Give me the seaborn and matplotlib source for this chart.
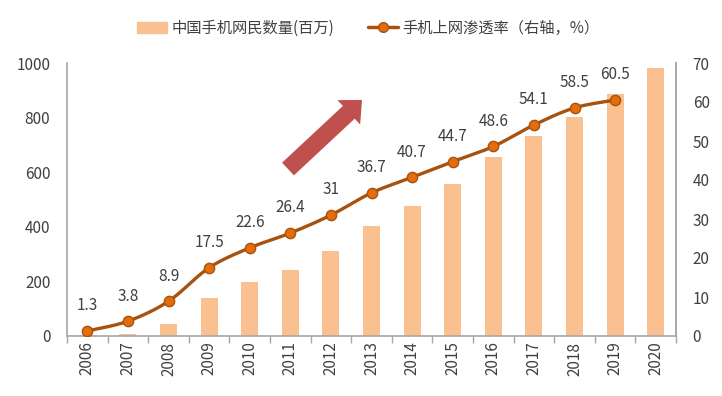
import numpy as np
import pandas as pd
import matplotlib
matplotlib.use("Agg")
import matplotlib.pyplot as plt
from matplotlib.patches import Patch
from matplotlib.lines import Line2D
import seaborn as sns

years = [str(y) for y in range(2006, 2021)]
users = [5, 9, 45, 138, 198, 242, 311, 403, 476, 555, 657, 731, 802, 887, 982]
rate_years = [str(y) for y in range(2006, 2020)]
rate = [1.3, 3.8, 8.9, 17.5, 22.6, 26.4, 31, 36.7, 40.7, 44.7, 48.6, 54.1, 58.5, 60.5]
rate_labels = ["1.3", "3.8", "8.9", "17.5", "22.6", "26.4", "31", "36.7", "40.7",
               "44.7", "48.6", "54.1", "58.5", "60.5"]
bar_name = "中国手机网民数量(百万)"
line_name = "手机上网渗透率（右轴，%）"

sns.set_theme(style="white")
plt.rcParams['font.family'] = ['Noto Sans CJK SC', 'DejaVu Sans']

BAR_C = "#FAC090"
LINE_C = "#A8520F"
MARK_C = "#E46C0A"
TXT_C = "#404040"
AX_C = "#A6A6A6"

fig = plt.figure(figsize=(7.22, 3.96), dpi=100)
ax = fig.add_axes([67/722, 60/396, (676-67)/722, (336-63)/396])

df = pd.DataFrame({"year": years, "users": users})
sns.barplot(data=df, x="year", y="users", ax=ax, color=BAR_C, width=0.42,
            saturation=1, edgecolor="none")
ax.set_xlim(-0.5, len(years) - 0.5)
ax.set_ylim(0, 1000)
ax.set_yticks(np.arange(0, 1001, 200))
ax.set_xlabel("")
ax.set_ylabel("")
ax.tick_params(axis='x', which='major', length=0, labelrotation=90, labelsize=11,
               labelcolor=TXT_C, pad=4)
ax.set_xticks(np.arange(-0.5, len(years), 1), minor=True)
ax.tick_params(axis='x', which='minor', length=5, color=AX_C, width=1, bottom=True)
ax.tick_params(axis='y', length=0, labelsize=11, labelcolor=TXT_C, pad=12)
ax.spines["top"].set_visible(False)
for s in ["left", "bottom", "right"]:
    ax.spines[s].set_color(AX_C)
    ax.spines[s].set_linewidth(1.2)

ax2 = ax.twinx()
ax2.set_ylim(0, 70)
ax2.set_yticks(np.arange(0, 71, 10))
ax2.tick_params(axis='y', length=0, labelsize=11, labelcolor=TXT_C, pad=12)
for s in ["top", "left", "bottom"]:
    ax2.spines[s].set_visible(False)
ax2.spines["right"].set_color(AX_C)
ax2.spines["right"].set_linewidth(1.2)

# smooth curve through the data points (Bezier / Catmull-Rom style smoothing)
xs = np.arange(len(rate), dtype=float)
ys = np.array(rate, dtype=float)
px = np.concatenate([[xs[0]], xs, [xs[-1]]])
py = np.concatenate([[ys[0]], ys, [ys[-1]]])
cx, cy = [], []
t = np.linspace(0, 1, 30)
for i in range(1, len(px) - 2):
    p0, p1, p2, p3 = [np.array([px[j], py[j]]) for j in (i - 1, i, i + 1, i + 2)]
    b1 = p1 + (p2 - p0) / 6
    b2 = p2 - (p3 - p1) / 6
    seg = ((1 - t)[:, None] ** 3 * p1 + 3 * ((1 - t) ** 2 * t)[:, None] * b1
           + 3 * ((1 - t) * t ** 2)[:, None] * b2 + (t ** 3)[:, None] * p2)
    cx.extend(seg[:, 0]); cy.extend(seg[:, 1])
ax2.plot(cx, cy, color=LINE_C, lw=2.4, zorder=3, solid_capstyle='round')
sns.scatterplot(x=xs, y=ys, ax=ax2, color=MARK_C, edgecolor=LINE_C, s=55,
                linewidth=1, zorder=4, legend=False)
for x, y, lab in zip(xs, ys, rate_labels):
    ax2.annotate(lab, (x, y), xytext=(0, 12), textcoords='offset points',
                 ha='center', va='bottom', fontsize=11, color=TXT_C)
ax2.set_xlim(-0.5, len(years) - 0.5)

# decorative arrow
ax.annotate('', xy=(362/722, 296/396), xytext=(288/722, 227/396),
            xycoords='figure fraction', textcoords='figure fraction',
            arrowprops=dict(arrowstyle='simple,head_width=24,head_length=13,tail_width=12.5',
                            mutation_scale=1, color='#C0504D', shrinkA=0, shrinkB=0,
                            lw=0))

handles = [Patch(color=BAR_C, label=bar_name),
           Line2D([0], [0], color=LINE_C, lw=2.5, marker='o', markersize=7,
                  markerfacecolor=MARK_C, markeredgecolor=LINE_C, label=line_name)]
fig.legend(handles=handles, loc='center', bbox_to_anchor=(368/722, 1 - 28/396), ncol=2,
           frameon=False, fontsize=11, labelcolor=TXT_C, columnspacing=2.2,
           handlelength=2.0, handletextpad=0.25)

fig.savefig("out.png", dpi=100)
